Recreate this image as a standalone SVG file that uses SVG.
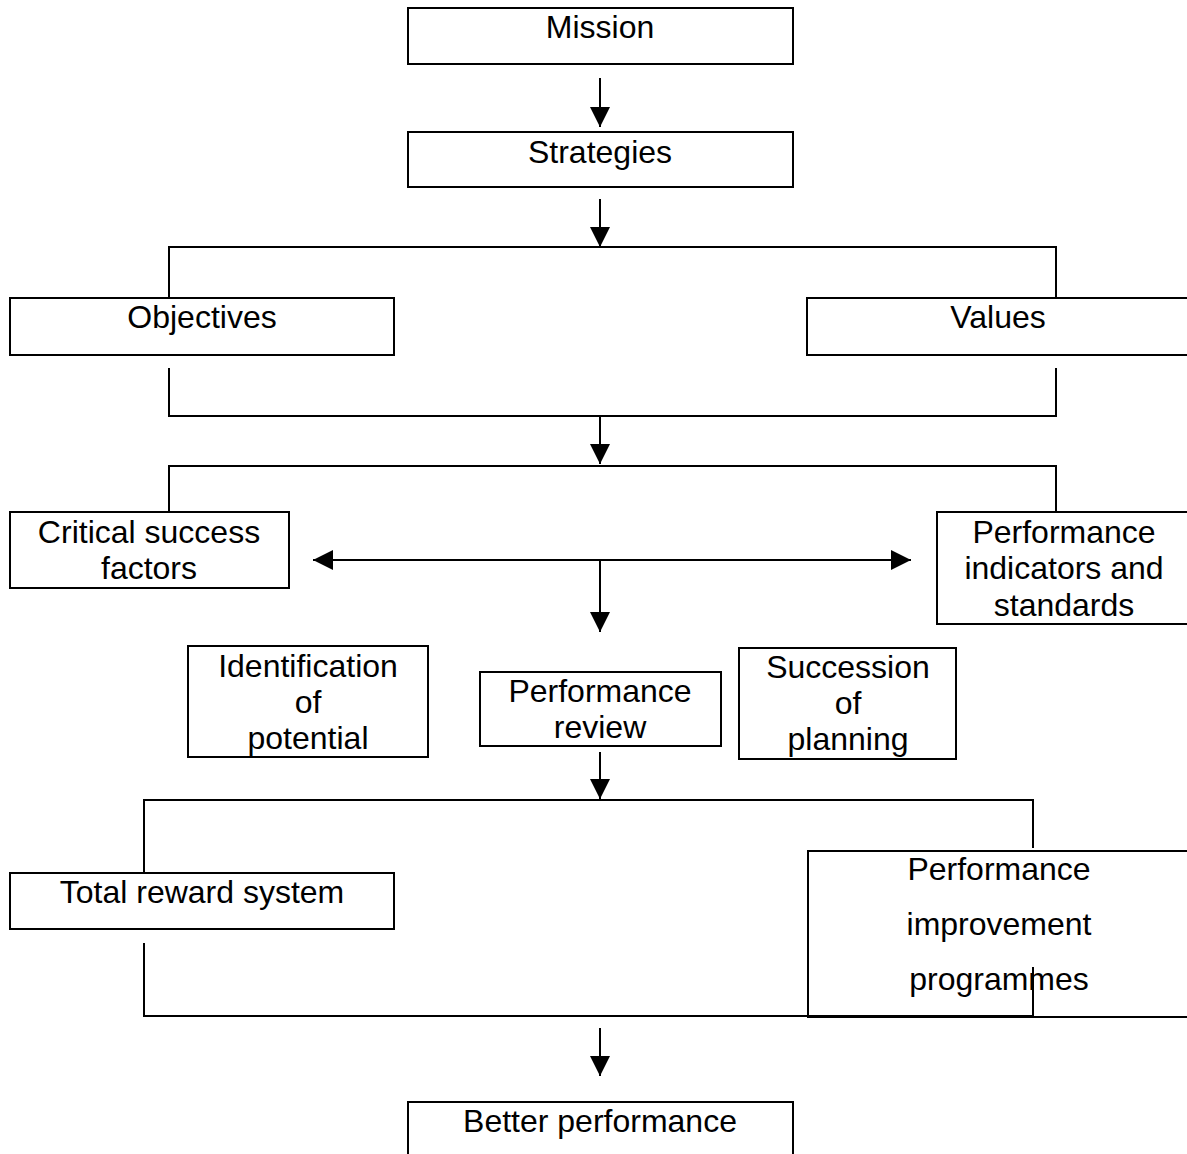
<svg xmlns="http://www.w3.org/2000/svg" width="1187" height="1154" viewBox="0 0 1187 1154">
<style>
.box{fill:#fff;stroke:#000;stroke-width:2}
.t{font-family:"Liberation Sans",Arial,sans-serif;font-size:32px;fill:#000;text-anchor:middle}
.c{fill:none;stroke:#000;stroke-width:2}
.ah{fill:#000}
</style>
<defs>
<marker id="arr" viewBox="0 0 20 20" refX="20" refY="10" markerWidth="20" markerHeight="20" markerUnits="userSpaceOnUse" orient="auto-start-reverse">
<path d="M0,0 L20,10 L0,20 Z" class="ah"/>
</marker>
</defs>
<rect width="1187" height="1154" fill="#fff"/>
<g id="mission"><rect class="box" x="408" y="8" width="385" height="56"/><text class="t" x="600" y="38">Mission</text></g>
<g id="strategies"><rect class="box" x="408" y="132" width="385" height="55"/><text class="t" x="600" y="163">Strategies</text></g>
<g id="objectives"><rect class="box" x="10" y="298" width="384" height="57"/><text class="t" x="202" y="328">Objectives</text></g>
<g id="values"><rect class="box" x="807" y="298" width="400" height="57"/><text class="t" x="998" y="328">Values</text></g>
<g id="csf"><rect class="box" x="10" y="512" width="279" height="76"/><text class="t" x="149" y="543">Critical success</text><text class="t" x="149" y="579">factors</text></g>
<g id="pis"><rect class="box" x="937" y="512" width="270" height="112"/><text class="t" x="1064" y="543">Performance</text><text class="t" x="1064" y="579">indicators and</text><text class="t" x="1064" y="616">standards</text></g>
<g id="identification"><rect class="box" x="188" y="646" width="240" height="111"/><text class="t" x="308" y="677">Identification</text><text class="t" x="308" y="713">of</text><text class="t" x="308" y="749">potential</text></g>
<g id="review"><rect class="box" x="480" y="672" width="241" height="74"/><text class="t" x="600" y="702">Performance</text><text class="t" x="600" y="738">review</text></g>
<g id="succession"><rect class="box" x="739" y="648" width="217" height="111"/><text class="t" x="848" y="678">Succession</text><text class="t" x="848" y="714">of</text><text class="t" x="848" y="750">planning</text></g>
<g id="reward"><rect class="box" x="10" y="873" width="384" height="56"/><text class="t" x="202" y="903">Total reward system</text></g>
<g id="improvement"><rect class="box" x="808" y="851" width="400" height="166"/><text class="t" x="999" y="880">Performance</text><text class="t" x="999" y="935">improvement</text><text class="t" x="999" y="990">programmes</text></g>
<g id="better"><rect class="box" x="408" y="1102" width="385" height="70"/><text class="t" x="600" y="1132">Better performance</text></g>
<g id="connectors">
<line class="c" x1="600" y1="78" x2="600" y2="127" marker-end="url(#arr)"/>
<line class="c" x1="600" y1="199" x2="600" y2="247" marker-end="url(#arr)"/>
<polyline class="c" points="169,297 169,247 1056,247 1056,297"/>
<polyline class="c" points="169,368 169,416 1056,416 1056,368"/>
<line class="c" x1="600" y1="416" x2="600" y2="464" marker-end="url(#arr)"/>
<polyline class="c" points="169,512 169,466 1056,466 1056,512"/>
<line class="c" x1="313" y1="560" x2="911" y2="560" marker-start="url(#arr)" marker-end="url(#arr)"/>
<line class="c" x1="600" y1="560" x2="600" y2="632" marker-end="url(#arr)"/>
<line class="c" x1="600" y1="752" x2="600" y2="799" marker-end="url(#arr)"/>
<polyline class="c" points="144,872 144,800 1033,800 1033,848"/>
<polyline class="c" points="144,943 144,1016 1033,1016 1033,967"/>
<line class="c" x1="600" y1="1028" x2="600" y2="1076" marker-end="url(#arr)"/>
</g>
</svg>
